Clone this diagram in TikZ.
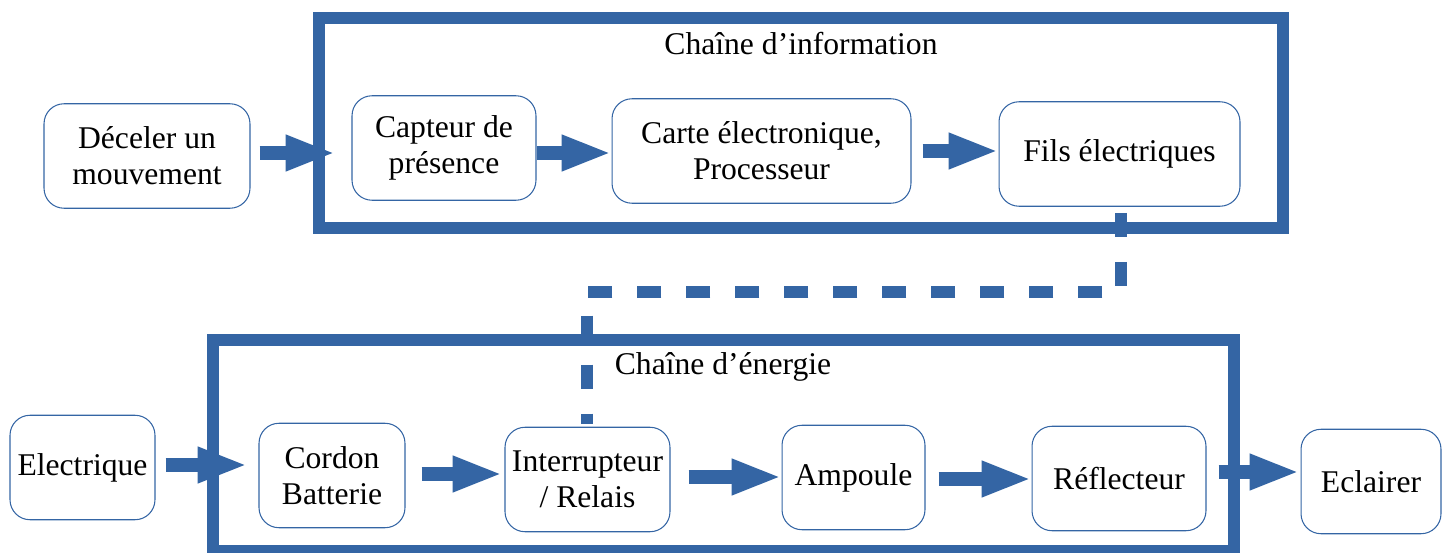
\documentclass[tikz,border=0pt]{standalone}
\usepackage{fontspec}
\setmainfont{Liberation Serif}
\usepackage{tikz}
\usetikzlibrary{arrows.meta, positioning}

\definecolor{chainblue}{HTML}{3465A4}

\begin{document}
\begin{tikzpicture}[
    x=0.02cm, y=-0.02cm,
    box/.style={rectangle, rounded corners=0.4cm, draw=chainblue, line width=0.6pt, align=center, minimum height=2.09cm, font=\fontsize{18}{20.5}\selectfont},
    frame/.style={draw=chainblue, line width=0.24cm},
    title/.style={font=\fontsize{18}{20.5}\selectfont},
    flow/.style={draw=chainblue, line width=0.28cm, -{Triangle[length=1cm, width=0.66cm]}},
    link/.style={draw=chainblue, line width=0.24cm, dash pattern=on 0.48cm off 0.5cm}
]
    \useasboundingbox (0,0) rectangle (1442,553);

    % Chaine d'information
    \draw[frame] (319,18) rectangle (1283,228);
    \node[title] (infotitle) at (801,44) {Chaîne d’information};

    \node[box, minimum width=4.12cm] (deceler) at (147,156) {Déceler un\\mouvement};
    \node[box, minimum width=3.68cm] (capteur) at (444,148) {Capteur de\\présence};
    \node[box, minimum width=5.98cm] (carte) at (761.5,151) {Carte électronique,\\Processeur};
    \node[box, minimum width=4.82cm] (fils) at (1119.5,154) {Fils électriques};

    \draw[flow, shorten <=0.18cm, shorten >=0.32cm] ([yshift=0.06cm]deceler.east) -- ([yshift=0.06cm]deceler.east -| capteur.west);
    \draw[flow] ([yshift=-0.1cm]capteur.east) -- ([yshift=-0.1cm]capteur.east -| carte.west);
    \draw[flow, shorten <=0.22cm] (carte.east) -- (carte.east -| fils.west);

    % Chaine d'energie
    \draw[frame] (213,340) rectangle (1234,551);
    \node[title] (energietitle) at (723,367) {Chaîne d’énergie};

    \node[box, minimum width=2.9cm] (electrique) at (82.5,467.5) {Electrique};
    \node[box, minimum width=2.92cm] (cordon) at (332,475.5) {Cordon\\Batterie};
    \node[box, minimum width=3.3cm] (interrupteur) at (587.5,479.5) {Interrupteur\\/ Relais};
    \node[box, minimum width=2.86cm] (ampoule) at (853.5,477.5) {Ampoule};
    \node[box, minimum width=3.48cm] (reflecteur) at (1119,478.5) {Réflecteur};
    \node[box, minimum width=2.8cm] (eclairer) at (1371,481.5) {Eclairer};

    \draw[flow, shorten <=0.2cm, shorten >=0.22cm] ([yshift=0.05cm]electrique.east) -- ([yshift=0.05cm]electrique.east -| cordon.west);
    \draw[flow, shorten <=0.32cm, shorten >=0.04cm] ([yshift=0.03cm]cordon.east) -- ([yshift=0.03cm]cordon.east -| interrupteur.west);
    \draw[flow, shorten <=0.36cm] ([yshift=0.05cm]interrupteur.east) -- ([yshift=0.05cm]interrupteur.east -| ampoule.west);
    \draw[flow, shorten <=0.26cm] ([yshift=-0.03cm]ampoule.east) -- ([yshift=-0.03cm]ampoule.east -| reflecteur.west);
    \draw[flow, shorten <=0.24cm, shorten >=0.02cm] ([yshift=0.13cm]reflecteur.east) -- ([yshift=0.13cm]reflecteur.east -| eclairer.west);

    % commande du relais
    \coordinate (bend) at (587,292);
    \draw[link, shorten <=0.12cm, shorten >=0.06cm] (fils.south -| 1121,0) |- (bend) -- (interrupteur.north -| bend);
\end{tikzpicture}
\end{document}
